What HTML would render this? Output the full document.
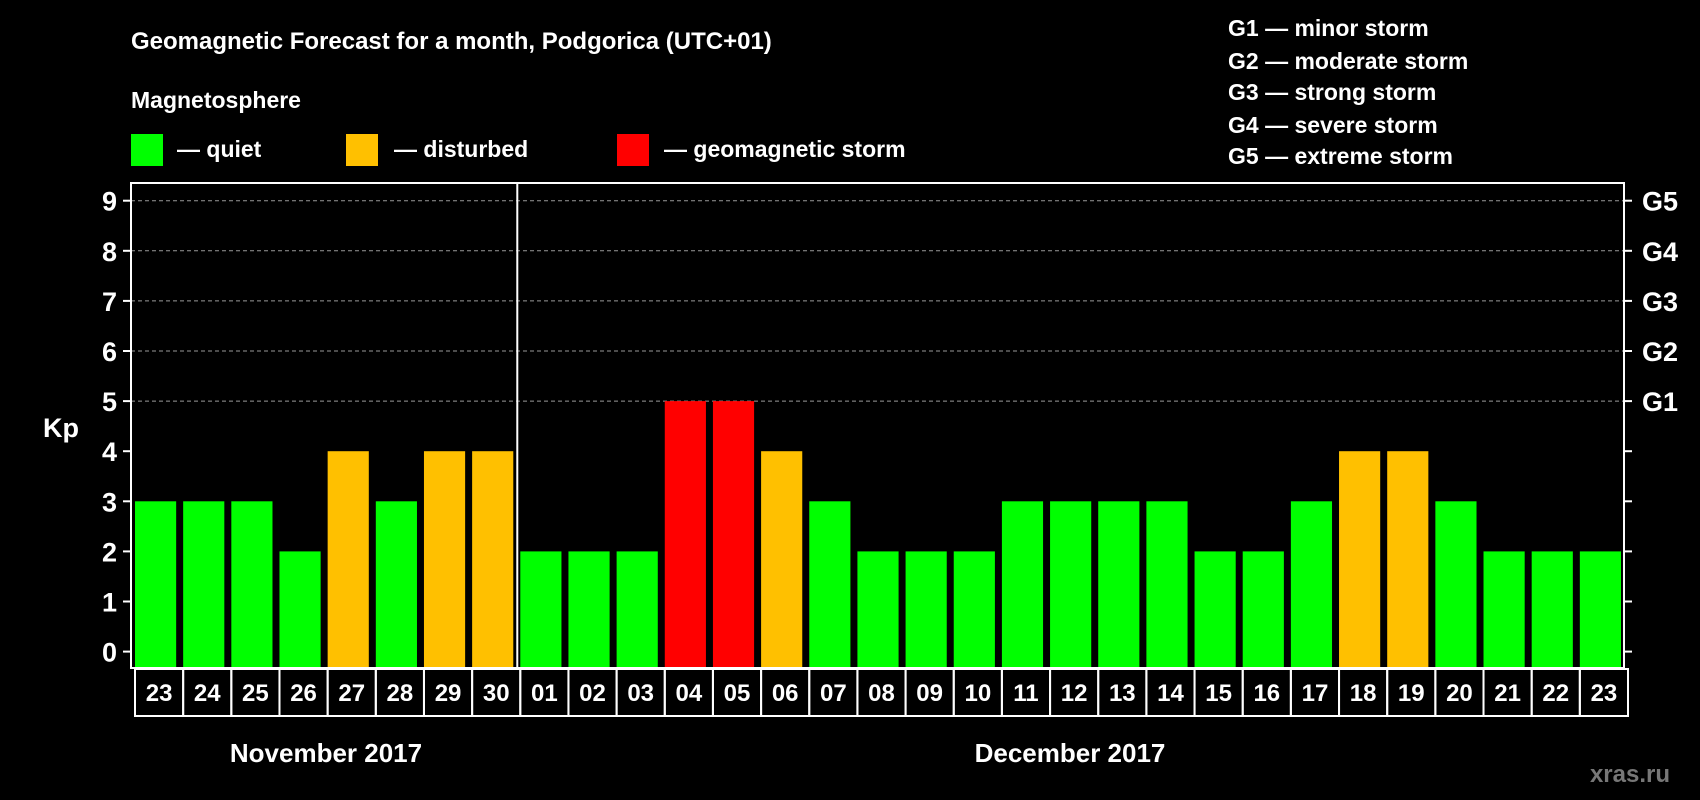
<!DOCTYPE html>
<html><head><meta charset="utf-8"><style>
body{margin:0;background:#000;width:1700px;height:800px;overflow:hidden}
svg{display:block;font-family:"Liberation Sans",sans-serif;font-weight:bold}
</style></head><body>
<svg id="c" width="1700" height="800">
<text x="131" y="49" fill="#fff" font-size="24">Geomagnetic Forecast for a month, Podgorica (UTC+01)</text>
<text x="131" y="108" fill="#fff" font-size="23">Magnetosphere</text>
<rect x="131" y="134" width="32" height="32" fill="#00ff00"/>
<text x="177" y="157" fill="#fff" font-size="23">— quiet</text>
<rect x="346" y="134" width="32" height="32" fill="#ffc000"/>
<text x="394" y="157" fill="#fff" font-size="23">— disturbed</text>
<rect x="617" y="134" width="32" height="32" fill="#ff0000"/>
<text x="664" y="157" fill="#fff" font-size="23">— geomagnetic storm</text>
<g fill="#fff" font-size="23">
<text x="1228" y="36">G1 — minor storm</text>
<text x="1228" y="69">G2 — moderate storm</text>
<text x="1228" y="100">G3 — strong storm</text>
<text x="1228" y="133">G4 — severe storm</text>
<text x="1228" y="164">G5 — extreme storm</text>
</g>
<text x="43" y="437" fill="#fff" font-size="27">Kp</text>
<text x="326" y="762" fill="#fff" font-size="26" text-anchor="middle">November 2017</text>
<text x="1070" y="762" fill="#fff" font-size="26" text-anchor="middle">December 2017</text>
<text x="1670" y="782" fill="#777" font-size="24" text-anchor="end">xras.ru</text>
<g id="plot"></g>
</svg>
<script>
const days=["23","24","25","26","27","28","29","30","01","02","03","04","05","06","07","08","09","10","11","12","13","14","15","16","17","18","19","20","21","22","23"];
const kp=[3,3,3,2,4,3,4,4,2,2,2,5,5,4,3,2,2,2,3,3,3,3,2,2,3,4,4,3,2,2,2];
const yTicks=[0,1,2,3,4,5,6,7,8,9];
const gLabels=["G1","G2","G3","G4","G5"];
const NS="http://www.w3.org/2000/svg";
const g=document.getElementById('plot');
const L=131,R=1624,T=183,B=668;
const y=v=>651.6-v*50.1;
const slot=(R-L)/days.length;
const x=i=>L+i*slot;
function mk(t,a){const e=document.createElementNS(NS,t);for(const k in a)e.setAttribute(k,a[k]);g.appendChild(e);return e;}
yTicks.forEach(v=>{
 if(v>=5){const l=mk('line',{x1:L,x2:R,y1:y(v),y2:y(v),stroke:'#999','stroke-dasharray':'4,3','stroke-width':1});
 
 }
 const t1=mk('line',{x1:L-8,x2:L,y1:y(v),y2:y(v),stroke:'#fff','stroke-width':2});
 
 
 const t2=mk('line',{x1:R,x2:R+8,y1:y(v),y2:y(v),stroke:'#fff','stroke-width':2});
 
 
 const tx=mk('text',{x:L-14,y:y(v)+10,fill:'#fff','font-size':27,'text-anchor':'end'});
 tx.textContent=v;
 
 
});
gLabels.forEach((s,i)=>{
 const t=mk('text',{x:R+18,y:y(5+i)+10,fill:'#fff','font-size':27});
 t.textContent=s;
 
 
});
kp.forEach((v,i)=>{
 const c=v>=5?'#ff0000':v>=4?'#ffc000':'#00ff00';
 const r=mk('rect',{x:x(i)+4,y:y(v),width:slot-7,height:y(0)-y(v)+16,fill:c});
 
 
 const b=mk('rect',{x:x(i)+4,y:B+1,width:slot,height:47,fill:'none',stroke:'#fff','stroke-width':2});
 
 
 const t=mk('text',{x:x(i)+4+slot/2,y:B+33,fill:'#fff','font-size':24,'text-anchor':'middle'});
 t.textContent=days[i];
 
 
});
const f=mk('rect',{x:L,y:T,width:R-L,height:B-T,fill:'none',stroke:'#fff','stroke-width':2});


const d=mk('line',{x1:x(8)+1,x2:x(8)+1,y1:T,y2:B,stroke:'#fff','stroke-width':2});


</script>
</body></html>
